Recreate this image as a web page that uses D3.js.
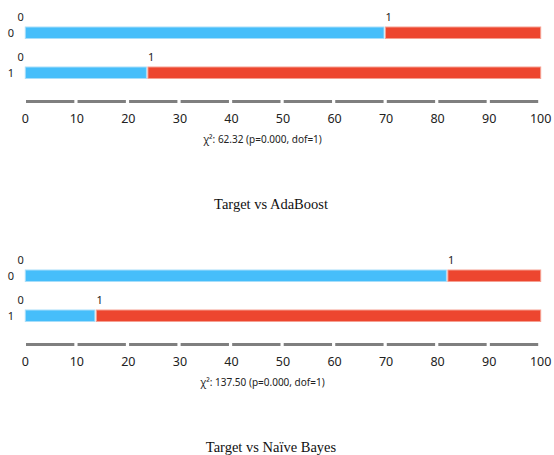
<!DOCTYPE html>
<html><head><meta charset="utf-8">
<script src="https://cdn.jsdelivr.net/npm/d3@7"></script>
<style>body{margin:0;background:#fff}</style>
</head><body>
<svg id="c" width="554" height="455"></svg>
<script>
const rows = ["0", "1"];
const groups = ["0", "1"];
const titles = ["Target vs AdaBoost", "Target vs Naïve Bayes"];
const chiTexts = ["χ²: 62.32 (p=0.000, dof=1)", "χ²: 137.50 (p=0.000, dof=1)"];
// percentage of group "0" per row, for each chart
const adaBoostPct0 = [69.6, 23.5];
const naiveBayesPct0 = [81.7, 13.5];
const tickValues = [0, 10, 20, 30, 40, 50, 60, 70, 80, 90, 100];
const colors = ["#46befa", "#ed462f"];
const strokes = ["#a8defa", "#f5a092"];

const svg = d3.select("#c");
const x = d3.scaleLinear().domain([0, 100]).range([25.3, 540.7]);
const charts = [adaBoostPct0, naiveBayesPct0];

charts.forEach((vals, ci) => {
  const g = svg.append("g").attr("transform", `translate(0,${ci * 243})`);
  const bh = 11.5;
  rows.forEach((r, ri) => {
    const v = vals[ri];
    const segs = [{s: 0, e: v, k: 0}, {s: v, e: 100, k: 1}];
    const yc = [27, 67][ri];
    segs.forEach(sg => {
      const x0 = x(sg.s) + (sg.k === 1 ? 1.5 : 0);
      const x1 = x(sg.e);
      g.append("rect").attr("x", x0).attr("y", yc).attr("width", Math.max(0, x1 - x0)).attr("height", bh)
        .attr("fill", colors[sg.k]).attr("stroke", strokes[sg.k]).attr("stroke-width", 1);
    });
    g.append("text").attr("x", 11).attr("y", yc + bh / 2 + 4).attr("text-anchor", "middle")
      .attr("font-family", "Noto Sans, sans-serif").attr("font-size", 11).attr("fill", "#222").text(r);
    g.append("text").attr("x", x(0) - 1.5).attr("y", yc - 6).attr("text-anchor", "end")
      .attr("font-family", "Noto Sans, sans-serif").attr("font-size", 11).attr("fill", "#222").text(groups[0]);
    g.append("text").attr("x", x(v) + 1.5).attr("y", yc - 6).attr("text-anchor", "start")
      .attr("font-family", "Noto Sans, sans-serif").attr("font-size", 11).attr("fill", "#222").text(groups[1]);
  });
  // axis as dashes between ticks
  const ay = 101.5;
  for (let i = 0; i < tickValues.length - 1; i++) {
    g.append("line").attr("x1", x(tickValues[i]) + 0.7).attr("x2", x(tickValues[i + 1]) - 2.5)
      .attr("y1", ay).attr("y2", ay).attr("stroke", "#7f7f7f").attr("stroke-width", 3);
  }
  g.selectAll("text.tick").data(tickValues).join("text").attr("class", "tick")
    .attr("x", d => x(d)).attr("y", 122.5).attr("text-anchor", "middle")
    .attr("font-family", "Noto Sans, sans-serif").attr("font-size", 12.5).attr("fill", "#222")
    .text(d => d);
  g.append("text").attr("x", 262.5).attr("y", 143).attr("text-anchor", "middle")
    .attr("font-family", "Noto Sans, sans-serif").attr("font-size", 10).attr("fill", "#222")
    .text(chiTexts[ci]);
  g.append("text").attr("x", 271).attr("y", 209).attr("text-anchor", "middle")
    .attr("font-family", "Liberation Serif, serif").attr("font-size", 14.5).attr("fill", "#111")
    .text(titles[ci]);
});
</script>
</body></html>
